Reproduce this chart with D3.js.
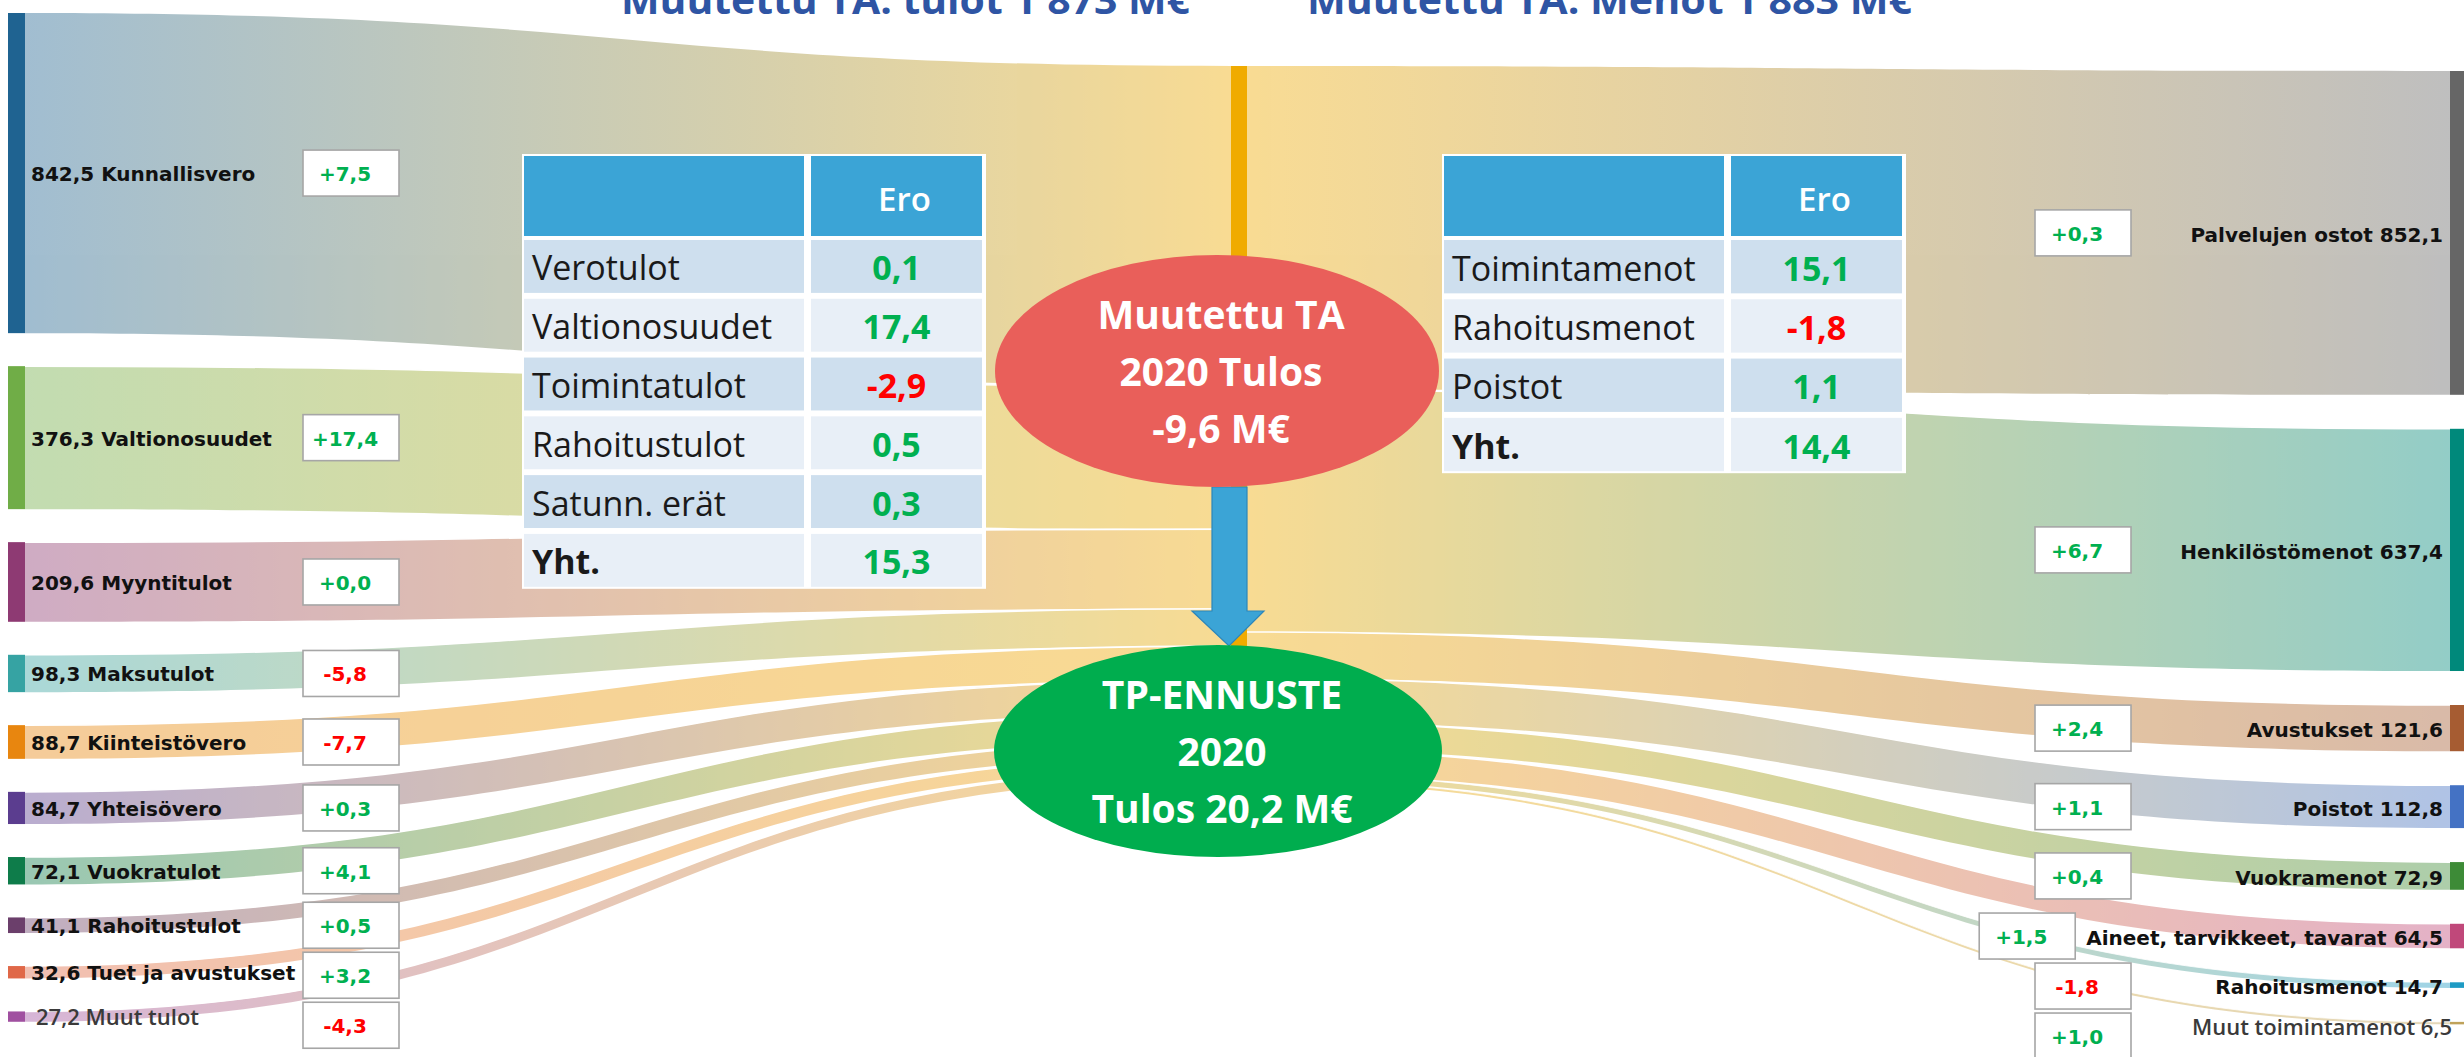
<!DOCTYPE html>
<html>
<head>
<meta charset="utf-8">
<script src="https://cdn.jsdelivr.net/npm/d3@7"></script>
<style>
  body { margin: 0; background: #ffffff; }
  svg { display: block; }
</style>
</head>
<body>
<div id="vis"></div>
<script>
const WIDTH = 2464;
const HEIGHT = 1057;
const SVG = d3.select("#vis").append("svg").attr("width", WIDTH).attr("height", HEIGHT);

// ---------------------------------- DATOS ----------------------------------
const otsikot = ["Muutettu TA: tulot 1 873 M€", "Muutettu TA: Menot 1 883 M€"];

const tuloNimet = ["Kunnallisvero", "Valtionosuudet", "Myyntitulot", "Maksutulot", "Kiinteistövero",
    "Yhteisövero", "Vuokratulot", "Rahoitustulot", "Tuet ja avustukset", "Muut tulot"];
const tuloArvot = [842.5, 376.3, 209.6, 98.3, 88.7, 84.7, 72.1, 41.1, 32.6, 27.2];
const tuloMuutos = [7.5, 17.4, 0.0, -5.8, -7.7, 0.3, 4.1, 0.5, 3.2, -4.3];

const menoNimet = ["Palvelujen ostot", "Henkilöstömenot", "Avustukset", "Poistot", "Vuokramenot",
    "Aineet, tarvikkeet, tavarat", "Rahoitusmenot", "Muut toimintamenot"];
const menoArvot = [852.1, 637.4, 121.6, 112.8, 72.9, 64.5, 14.7, 6.5];
const menoMuutos = [0.3, 6.7, 2.4, 1.1, 0.4, 1.5, -1.8, 1.0];

const tuloRivit = ["Verotulot", "Valtionosuudet", "Toimintatulot", "Rahoitustulot", "Satunn. erät", "Yht."];
const tuloEro = [0.1, 17.4, -2.9, 0.5, 0.3, 15.3];
const menoRivit = ["Toimintamenot", "Rahoitusmenot", "Poistot", "Yht."];
const menoEro = [15.1, -1.8, 1.1, 14.4];

const taTekstit = ["Muutettu TA", "2020 Tulos", "-9,6 M€"];
const tpTekstit = ["TP-ENNUSTE", "2020", "Tulos 20,2 M€"];

// Värit
const tuloVarit = ["#1F6391", "#70AD47", "#8E3A73", "#36A3A3", "#E8860F", "#5B3D8F", "#0E7C4A", "#6B3F6B", "#E06848", "#A050A0"];
const menoVarit = ["#666666", "#00897B", "#A65C32", "#4472C4", "#3D8B37", "#C0487A", "#1E9BC4", "#BFA25A"];
const keskiVari = "#F0AB00";
const VIHREA = "#00B050";
const PUNAINEN = "#FF0000";

// ---------------------------------- ASETTELU ----------------------------------
const fi = d3.formatLocale({ decimal: ",", thousands: " ", grouping: [3], currency: ["", " €"], minus: "-" });
const fmt = fi.format(".1f");
const fmtEtumerkki = fi.format("+.1f");

const escalaAltura = d3.scaleLinear().domain([0, 100]).range([0, 38]);

const xVasen = 8, solmuLeveys = 17;
const xKeski = 1231, keskiLeveys = 16;
const xOikea = 2450;
const keskiYla = 66;

function pinoa(arvot, alku, vali) {
    let y = alku;
    return arvot.map(v => {
        const s = { y0: y, y1: y + escalaAltura(v) };
        y = s.y1 + vali;
        return s;
    });
}

const vasenSolmut = pinoa(tuloArvot, 13, 33);
const oikeaSolmut = pinoa(menoArvot, 71, 34);
const keskiVasen = pinoa(tuloArvot, keskiYla, 0);
const keskiOikea = pinoa(menoArvot, keskiYla, 0);
const keskiAla = Math.max(keskiVasen[keskiVasen.length - 1].y1, keskiOikea[keskiOikea.length - 1].y1);

function nauha(x0, y0a, y0b, x1, y1a, y1b) {
    const xm = (x0 + x1) / 2;
    const p = d3.path();
    p.moveTo(x0, y0a);
    p.bezierCurveTo(xm, y0a, xm, y1a, x1, y1a);
    p.lineTo(x1, y1b);
    p.bezierCurveTo(xm, y1b, xm, y0b, x0, y0b);
    p.closePath();
    return p.toString();
}

function reuna(x0, y0, x1, y1) {
    const xm = (x0 + x1) / 2;
    const p = d3.path();
    p.moveTo(x0, y0);
    p.bezierCurveTo(xm, y0, xm, y1, x1, y1);
    return p.toString();
}

const defs = SVG.append("defs");

function gradientti(id, xa, xb, va, vb) {
    const g = defs.append("linearGradient").attr("id", id)
        .attr("gradientUnits", "userSpaceOnUse")
        .attr("x1", xa).attr("x2", xb).attr("y1", 0).attr("y2", 0);
    g.append("stop").attr("offset", "0%").attr("stop-color", va);
    g.append("stop").attr("offset", "100%").attr("stop-color", vb);
}

// ---------------------------------- VIRRAT ----------------------------------
const virrat = SVG.append("g").attr("opacity", 0.42);

tuloArvot.forEach((v, i) => {
    gradientti("gv" + i, xVasen + solmuLeveys, xKeski, tuloVarit[i], keskiVari);
    virrat.append("path")
        .attr("d", nauha(xVasen + solmuLeveys, vasenSolmut[i].y0, vasenSolmut[i].y1,
            xKeski, keskiVasen[i].y0, keskiVasen[i].y1))
        .attr("fill", `url(#gv${i})`);
});

menoArvot.forEach((v, i) => {
    gradientti("go" + i, xKeski + keskiLeveys, xOikea, keskiVari, menoVarit[i]);
    virrat.append("path")
        .attr("d", nauha(xKeski + keskiLeveys, keskiOikea[i].y0, keskiOikea[i].y1,
            xOikea, oikeaSolmut[i].y0, oikeaSolmut[i].y1))
        .attr("fill", `url(#go${i})`);
});

// ohuet valkoiset erotinviivat virtojen väliin
const erottimet = SVG.append("g").attr("fill", "none").attr("stroke", "#ffffff");
tuloArvot.forEach((v, i) => {
    if (i === 0 || escalaAltura(v) < 8) return;
    erottimet.append("path")
        .attr("d", reuna(xVasen + solmuLeveys, vasenSolmut[i].y0, xKeski, keskiVasen[i].y0))
        .attr("stroke-width", 1.6);
});
menoArvot.forEach((v, i) => {
    if (i === 0) return;
    erottimet.append("path")
        .attr("d", reuna(xKeski + keskiLeveys, keskiOikea[i].y0, xOikea, oikeaSolmut[i].y0))
        .attr("stroke-width", escalaAltura(v) < 8 ? 0.8 : 1.6);
});

// ---------------------------------- SOLMUT ----------------------------------
SVG.append("g").selectAll("rect")
    .data(vasenSolmut)
    .enter()
    .append("rect")
    .attr("x", xVasen)
    .attr("y", d => d.y0)
    .attr("width", solmuLeveys)
    .attr("height", d => d.y1 - d.y0)
    .style("fill", (d, i) => tuloVarit[i]);

SVG.append("g").selectAll("rect")
    .data(oikeaSolmut)
    .enter()
    .append("rect")
    .attr("x", xOikea)
    .attr("y", d => d.y0)
    .attr("width", solmuLeveys)
    .attr("height", d => Math.max(2, d.y1 - d.y0))
    .style("fill", (d, i) => menoVarit[i]);

SVG.append("rect")
    .attr("x", xKeski)
    .attr("y", keskiYla)
    .attr("width", keskiLeveys)
    .attr("height", keskiAla - keskiYla)
    .style("fill", keskiVari);

// ---------------------------------- TAULUKOT ----------------------------------
function taulukko(x, y, rivit, erot) {
    const g = SVG.append("g").attr("transform", `translate(${x},${y})`);
    const sar1 = 280, sar2 = 171, rako = 7, otsake = 80;
    const rivi = d3.scaleBand()
        .domain(d3.range(rivit.length))
        .range([otsake + 6, otsake + 6 + rivit.length * 57.8])
        .paddingInner(0.1);
    const korkeus = otsake + 6 + rivit.length * 57.8;

    g.append("rect").attr("x", 0).attr("y", 0)
        .attr("width", sar1 + sar2 + rako + 6).attr("height", korkeus + 2)
        .style("fill", "#ffffff");
    g.append("rect").attr("x", 2).attr("y", 2).attr("width", sar1).attr("height", otsake).style("fill", "#3BA4D6");
    g.append("rect").attr("x", 2 + sar1 + rako).attr("y", 2).attr("width", sar2).attr("height", otsake).style("fill", "#3BA4D6");
    g.append("text")
        .attr("x", 2 + sar1 + rako + sar2 / 2 + 8)
        .attr("y", 57)
        .attr("text-anchor", "middle")
        .attr("font-family", "Open Sans")
        .attr("font-size", "33px")
        .attr("font-weight", 600)
        .style("fill", "#ffffff")
        .text("Ero");

    const r = g.selectAll(".rivi")
        .data(rivit)
        .enter()
        .append("g")
        .attr("class", "rivi")
        .attr("transform", (d, i) => `translate(0,${rivi(i)})`);

    r.append("rect").attr("x", 2).attr("width", sar1).attr("height", rivi.bandwidth())
        .style("fill", (d, i) => i % 2 === 0 ? "#CEDFEE" : "#E8EFF7");
    r.append("rect").attr("x", 2 + sar1 + rako).attr("width", sar2).attr("height", rivi.bandwidth())
        .style("fill", (d, i) => i % 2 === 0 ? "#CEDFEE" : "#E8EFF7");

    r.append("text")
        .attr("x", 10)
        .attr("y", rivi.bandwidth() / 2 + 14)
        .attr("font-family", "Open Sans")
        .attr("font-size", "34px")
        .attr("font-weight", (d, i) => i === rivit.length - 1 ? "bold" : "normal")
        .style("fill", "#1a1a1a")
        .text(d => d);

    r.append("text")
        .attr("x", 2 + sar1 + rako + sar2 / 2)
        .attr("y", rivi.bandwidth() / 2 + 14)
        .attr("text-anchor", "middle")
        .attr("font-family", "Open Sans")
        .attr("font-size", "34px")
        .attr("font-weight", "bold")
        .style("fill", (d, i) => erot[i] < 0 ? PUNAINEN : VIHREA)
        .text((d, i) => fmt(erot[i]));
}

taulukko(522, 154, tuloRivit, tuloEro);
taulukko(1442, 154, menoRivit, menoEro);

// ---------------------------------- SOIKIOT ----------------------------------
const taKeski = { x: 1217, y: 371, rx: 222, ry: 116 };
const tpKeski = { x: 1218, y: 751, rx: 224, ry: 106 };

// nuoli
const nuoliYla = taKeski.y + taKeski.ry, nuoliAla = tpKeski.y - tpKeski.ry + 1;
const nuoliX = 1229;
const nuoli = d3.path();
nuoli.moveTo(nuoliX - 17, nuoliYla);
nuoli.lineTo(nuoliX + 18, nuoliYla);
nuoli.lineTo(nuoliX + 18, nuoliAla - 35);
nuoli.lineTo(nuoliX + 35, nuoliAla - 35);
nuoli.lineTo(nuoliX, nuoliAla);
nuoli.lineTo(nuoliX - 37, nuoliAla - 35);
nuoli.lineTo(nuoliX - 17, nuoliAla - 35);
nuoli.closePath();
SVG.append("path").attr("d", nuoli.toString())
    .style("fill", "#3BA4D6").style("stroke", "#2C86BA").style("stroke-width", 1.2);

function soikio(k, vari, tekstit) {
    SVG.append("ellipse")
        .attr("cx", k.x).attr("cy", k.y).attr("rx", k.rx).attr("ry", k.ry)
        .style("fill", vari);
    SVG.selectAll(null)
        .data(tekstit)
        .enter()
        .append("text")
        .attr("x", k.x + 4)
        .attr("y", (d, i) => k.y - 42 + i * 57)
        .attr("text-anchor", "middle")
        .attr("font-family", "Open Sans")
        .attr("font-size", "39px")
        .attr("font-weight", "bold")
        .style("fill", "#ffffff")
        .text(d => d);
}
soikio(taKeski, "#E95F5A", taTekstit);
soikio(tpKeski, "#00AD4E", tpTekstit);

// ---------------------------------- NIMIÖT JA ERO-LAATIKOT ----------------------------------
function laatikot(keskiY, muutos, xLaatikko) {
    const ys = [];
    keskiY.forEach((y, i) => ys.push(i > 0 ? Math.max(y, ys[i - 1] + 50) : y));
    return ys.map((y, i) => ({ x: xLaatikko, y: y, arvo: muutos[i] }));
}

function piirraLaatikot(data) {
    const g = SVG.append("g");
    const b = g.selectAll("g").data(data).enter().append("g")
        .attr("transform", d => `translate(${d.x},${d.y - 23})`);
    b.append("rect").attr("width", 96).attr("height", 46)
        .style("fill", "#ffffff").style("stroke", "#A6A6A6").style("stroke-width", 1.6);
    b.append("text")
        .attr("x", 42).attr("y", 31)
        .attr("text-anchor", "middle")
        .attr("font-family", "DejaVu Sans")
        .attr("font-size", "20px")
        .attr("font-weight", "bold")
        .style("fill", d => d.arvo < 0 ? PUNAINEN : VIHREA)
        .text(d => fmtEtumerkki(d.arvo));
    return b;
}

// "Muut"-rivit on kirjoitettu eri fontilla
function nimioTyyli(sel) {
    sel.attr("font-family", d => d.startsWith("Muut") ? "Open Sans" : "DejaVu Sans")
        .attr("font-size", d => d.startsWith("Muut") ? "22px" : "20px")
        .attr("font-weight", d => d.startsWith("Muut") ? 600 : "bold")
        .style("fill", d => d.startsWith("Muut") ? "#3a3a3a" : "#111111");
}

// vasen puoli
const vasenNimiot = SVG.append("g").selectAll("text")
    .data(tuloNimet)
    .enter()
    .append("text")
    .attr("x", (d, i) => d.startsWith("Muut") ? 36 : 31)
    .attr("y", (d, i) => (vasenSolmut[i].y0 + vasenSolmut[i].y1) / 2 + 8)
    .call(nimioTyyli)
    .text((d, i) => `${fmt(tuloArvot[i])} ${d}`);

const vasenLaatikot = laatikot(vasenSolmut.map(s => (s.y0 + s.y1) / 2), tuloMuutos, 303);
vasenNimiot.each(function (d, i) {
    const loppu = 31 + this.getComputedTextLength();
    if (loppu > vasenLaatikot[i].x - 6) vasenLaatikot[i].x = loppu + 8;
});
piirraLaatikot(vasenLaatikot);

// oikea puoli
const oikeaNimiot = SVG.append("g").selectAll("text")
    .data(menoNimet)
    .enter()
    .append("text")
    .attr("x", d => d.startsWith("Muut") ? 2452 : 2443)
    .attr("y", (d, i) => (oikeaSolmut[i].y0 + oikeaSolmut[i].y1) / 2 + (d.startsWith("Muut") ? 12 : 9))
    .attr("text-anchor", "end")
    .call(nimioTyyli)
    .text((d, i) => `${d} ${fmt(menoArvot[i])}`);

const oikeaLaatikot = laatikot(oikeaSolmut.map(s => (s.y0 + s.y1) / 2), menoMuutos, 2035);
oikeaNimiot.each(function (d, i) {
    const alku = 2443 - this.getComputedTextLength();
    if (!d.startsWith("Muut") && alku < oikeaLaatikot[i].x + 96 + 8) oikeaLaatikot[i].x = alku - 96 - 11;
});
piirraLaatikot(oikeaLaatikot);

// ---------------------------------- OTSIKOT ----------------------------------
SVG.selectAll(".otsikko")
    .data(otsikot)
    .enter()
    .append("text")
    .attr("class", "otsikko")
    .attr("x", (d, i) => i === 0 ? 621 : 1307)
    .attr("y", 14)
    .attr("font-family", "Open Sans")
    .attr("font-size", "40px")
    .attr("font-weight", "bold")
    .attr("textLength", (d, i) => i === 0 ? 569 : 605)
    .attr("lengthAdjust", "spacingAndGlyphs")
    .style("fill", "#2F55A4")
    .text(d => d);
</script>
</body>
</html>
